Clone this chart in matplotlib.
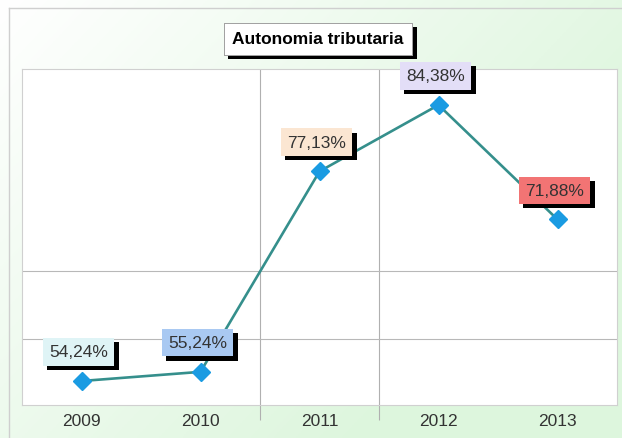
import numpy as np
import matplotlib.pyplot as plt
import matplotlib.patheffects as pe

# data
years = ['2009', '2010', '2011', '2012', '2013']
values = [54.24, 55.24, 77.13, 84.38, 71.88]
labels = ['54,24%', '55,24%', '77,13%', '84,38%', '71,88%']
label_colors = ['#dff4f6', '#a9c9f2', '#fbe6d2', '#e3def7', '#f27474']
hgrid = [58.83, 66.25]
vgrid = [1.5, 2.5]

plt.rcParams['font.family'] = ['Liberation Sans', 'DejaVu Sans']

fig = plt.figure(figsize=(6.22, 4.39), dpi=100)

# background gradient (white top-left -> pale green right/bottom)
bg = fig.add_axes([0, 0, 1, 1], zorder=-10)
gx, gy = np.meshgrid(np.linspace(0, 1, 200), np.linspace(0, 1, 200))
t = np.clip((gx * 0.9 + gy * 0.6) / 1.1, 0, 1)
white = np.array([1.0, 1.0, 1.0])
green = np.array([0.87, 0.965, 0.87])
img = white[None, None, :] * (1 - t[..., None]) + green[None, None, :] * t[..., None]
bg.imshow(img, extent=[0, 1, 0, 1], aspect='auto', origin='upper')
bg.plot([9 / 622, 9 / 622], [0, 1 - 9 / 439], color='#cfcfcf', lw=1)
bg.plot([9 / 622, 1], [1 - 9 / 439, 1 - 9 / 439], color='#cfcfcf', lw=1)
bg.set_xlim(0, 1)
bg.set_ylim(0, 1)
bg.axis('off')

ax = fig.add_axes([22 / 622, 1 - 406 / 439, 595 / 622, 336 / 439])
ax.set_facecolor('white')
x = np.arange(len(years))
ax.plot(x, values, color='#358f8c', lw=1.9, zorder=3)
ax.plot(x, values, linestyle='none', marker='D', markersize=9,
        color='#1a9be2', zorder=4)

for xi, v, lab, c in zip(x, values, labels, label_colors):
    tx = ax.annotate(lab, (xi, v), xytext=(-2, 21), textcoords='offset points',
                     ha='center', va='center', fontsize=12.5, color='#333333',
                     bbox=dict(boxstyle='square,pad=0.36', fc=c, ec='none'),
                     zorder=5)
    tx.get_bbox_patch().set_path_effects([
        pe.withSimplePatchShadow(offset=(3, -3), shadow_rgbFace='black', alpha=1),
        pe.Normal()])

ax.set_xlim(-0.5, 4.5)
ax.set_ylim(51.62, 88.31)
ax.set_xticks(x)
ax.set_xticklabels(years, fontsize=12.5, color='#333333')
ax.tick_params(axis='x', which='major', length=0, pad=6)
ax.set_xticks(vgrid, minor=True)
ax.tick_params(axis='x', which='minor', length=11, color='#b0b0b0', width=0.8)
ax.set_yticks(hgrid)
ax.set_yticklabels([])
ax.tick_params(axis='y', length=0)
ax.grid(True, which='minor', axis='x', color='#b0b0b0', lw=0.8)
ax.grid(True, which='major', axis='y', color='#b8b8b8', lw=0.8)
for s in ax.spines.values():
    s.set_color('#d0d0d0')
    s.set_linewidth(0.8)

title = fig.text(318 / 622, 1 - 40 / 439, 'Autonomia tributaria', ha='center',
                 va='center', fontsize=12.5, fontweight='bold', color='black',
                 bbox=dict(boxstyle='square,pad=0.5', fc='white', ec='#999999', lw=0.6))
title.get_bbox_patch().set_path_effects([
    pe.withSimplePatchShadow(offset=(3, -3), shadow_rgbFace='black', alpha=1),
    pe.Normal()])

fig.savefig('out.png', dpi=100)
